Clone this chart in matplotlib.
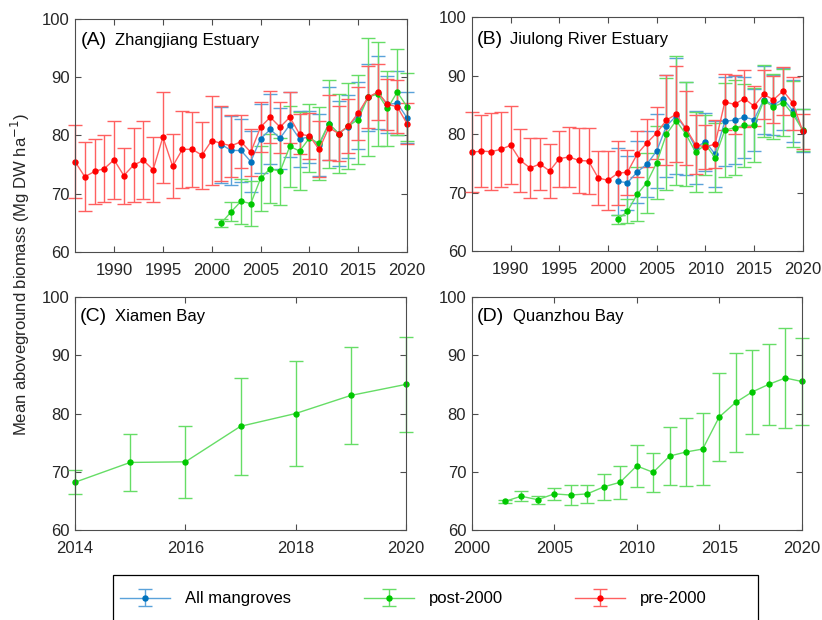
import matplotlib
matplotlib.use("Agg")
import matplotlib.pyplot as plt
from matplotlib.patches import Rectangle
import numpy as np

plt.rcParams['font.family'] = ['Liberation Sans', 'DejaVu Sans']

# ---------------- data ----------------
yrs_pre = list(range(1986, 2021))
yrs_post = list(range(2001, 2021))

# (A) Zhangjiang Estuary
a_pre_mean = [75.5, 72.9, 73.8, 74.3, 75.8, 73.1, 74.9, 75.7, 74.1, 79.7, 74.7, 77.6, 77.6, 76.6, 79.1,
              78.6, 78.2, 78.9, 77.1, 81.4, 83.1, 81.4, 83.1, 80.2, 79.9, 77.6, 81.3, 80.3, 81.6, 83.8,
              86.5, 87.4, 85.3, 84.9, 82.0]
a_pre_sd = [6.2, 5.9, 5.6, 5.7, 6.7, 4.8, 6.4, 6.7, 5.6, 7.8, 5.5, 6.65, 6.4, 5.75, 7.55,
            6.45, 5.3, 4.5, 4.0, 4.3, 4.5, 4.35, 4.4, 3.4, 4.0, 4.8, 5.6, 4.75, 4.65, 4.55,
            5.3, 4.8, 4.35, 4.5, 3.5]
a_all_mean = [78.4, 77.4, 77.4, 75.5, 79.4, 81.0, 79.5, 81.8, 79.4, 79.7, 78.3, 82.0, 80.3, 81.5, 83.4,
              86.5, 87.3, 85.3, 85.5, 83.0]
a_all_sd = [6.5, 5.85, 5.4, 5.2, 5.9, 6.0, 5.25, 5.6, 4.8, 4.5, 5.3, 6.3, 5.5, 5.45, 5.75,
            5.8, 6.3, 4.9, 5.5, 4.4]
a_post_mean = [65.0, 66.9, 68.7, 68.3, 72.6, 74.3, 73.8, 78.1, 77.3, 79.5, 78.6, 82.0, 80.3, 81.6, 82.7,
               86.5, 87.1, 84.6, 87.4, 84.9]
a_post_sd = [0.65, 1.65, 3.85, 3.9, 5.6, 5.95, 5.75, 6.95, 6.65, 5.8, 6.2, 7.55, 6.75, 7.35, 7.65,
             10.1, 8.95, 6.45, 7.4, 5.85]

# (B) Jiulong River Estuary
b_pre_mean = [76.9, 77.1, 77.0, 77.4, 78.1, 75.5, 74.2, 74.9, 73.7, 75.8, 76.1, 75.5, 75.4, 72.5, 72.1,
              73.3, 73.5, 76.6, 78.5, 80.2, 82.4, 83.4, 81.0, 78.2, 77.8, 78.3, 85.5, 85.1, 86.1, 84.8,
              86.8, 85.9, 87.4, 85.3, 80.5]
b_pre_sd = [6.85, 6.15, 6.55, 6.45, 6.65, 5.35, 5.1, 4.5, 4.55, 4.8, 5.15, 5.5, 5.6, 4.65, 5.1,
            5.45, 3.85, 3.95, 4.05, 4.5, 7.7, 8.2, 6.3, 5.05, 3.85, 4.15, 4.85, 5.05, 4.9, 3.45,
            4.15, 4.0, 4.15, 4.55, 3.0]
b_all_mean = [71.9, 71.7, 73.5, 74.9, 77.1, 81.4, 83.1, 80.9, 77.7, 78.7, 76.6, 82.2, 82.4, 82.9, 82.5,
              85.9, 85.0, 86.0, 84.0, 80.6]
b_all_sd = [5.8, 4.6, 5.3, 5.7, 6.4, 8.75, 10.0, 7.95, 6.2, 4.95, 5.7, 7.6, 7.5, 6.95, 5.3,
            5.85, 5.15, 5.3, 5.3, 3.65]
b_post_mean = [65.4, 66.8, 69.7, 71.7, 75.1, 80.0, 82.3, 80.0, 76.9, 78.2, 76.0, 80.7, 81.1, 81.5, 81.5,
               85.7, 84.7, 85.4, 83.4, 80.7]
b_post_sd = [0.8, 2.05, 4.6, 5.15, 6.25, 9.55, 11.05, 8.85, 6.85, 5.15, 5.95, 8.1, 8.1, 7.1, 6.35,
             6.15, 5.55, 5.8, 5.65, 3.55]

# (C) Xiamen Bay
c_years = list(range(2014, 2021))
c_post_mean = [68.2, 71.6, 71.7, 77.8, 80.0, 83.1, 85.0]
c_post_sd = [2.1, 4.9, 6.2, 8.35, 8.95, 8.35, 8.2]

# (D) Quanzhou Bay
d_years = list(range(2002, 2021))
d_post_mean = [64.9, 65.8, 65.2, 66.2, 66.0, 66.2, 67.4, 68.2, 71.0, 69.9, 72.7, 73.4, 73.9, 79.4,
               81.9, 83.7, 85.0, 86.1, 85.5]
d_post_sd = [0.2, 0.85, 0.7, 1.05, 1.7, 1.55, 2.2, 2.8, 3.6, 3.3, 4.95, 5.85, 6.2, 7.5,
             8.45, 7.15, 6.9, 8.65, 7.4]

series_labels = ['All mangroves', 'post-2000', 'pre-2000']
panel_letters = ['(A)', '(B)', '(C)', '(D)']
panel_names = ['Zhangjiang Estuary', 'Jiulong River Estuary', 'Xiamen Bay', 'Quanzhou Bay']
ylabel = 'Mean aboveground biomass (Mg DW ha$^{-1}$)'

# ---------------- style ----------------
# (marker colour, light colour for lines / error bars)
C_BLUE = ('#0072BD', '#5AA2DA')
C_GREEN = ('#00C800', '#66DD66')
C_RED = ('#FF0000', '#FF6060')
AX_COLOR = '0.3'
TXT_COLOR = '#262626'


def eb(ax, x, y, e, c, label=None):
    dark, light = c
    cont = ax.errorbar(x, y, yerr=e, fmt='-o', color=light, ecolor=light,
                       mfc=dark, mec=dark, ms=3.6, lw=1.0, elinewidth=1.0, capsize=5,
                       capthick=1.0, label=label)
    line, caps, bars = cont
    line.set_clip_on(False)
    for cp in caps:
        cp.set_clip_on(False)
    for b in bars:
        b.set_clip_on(False)
    return cont


fig = plt.figure(figsize=(8.22, 6.2), dpi=100)

W, H = 822.0, 620.0
boxes = [
    (75, 18.6, 407, 252),
    (471.7, 17.3, 802.7, 251),
    (75, 297, 406, 530),
    (471.7, 297, 801.7, 530),
]
axes = []
for (l, t, r, b) in boxes:
    ax = fig.add_axes([l / W, 1 - b / H, (r - l) / W, (b - t) / H])
    axes.append(ax)

axA, axB, axC, axD = axes

hA = eb(axA, yrs_post, a_all_mean, a_all_sd, C_BLUE, series_labels[0])
gA = eb(axA, yrs_post, a_post_mean, a_post_sd, C_GREEN, series_labels[1])
rA = eb(axA, yrs_pre, a_pre_mean, a_pre_sd, C_RED, series_labels[2])

eb(axB, yrs_post, b_all_mean, b_all_sd, C_BLUE)
eb(axB, yrs_post, b_post_mean, b_post_sd, C_GREEN)
eb(axB, yrs_pre, b_pre_mean, b_pre_sd, C_RED)

eb(axC, c_years, c_post_mean, c_post_sd, C_GREEN)
eb(axD, d_years, d_post_mean, d_post_sd, C_GREEN)

for ax in (axA, axB):
    ax.set_xlim(1986, 2020)
    ax.set_xticks([1990, 1995, 2000, 2005, 2010, 2015, 2020])
axC.set_xlim(2014, 2020)
axC.set_xticks([2014, 2016, 2018, 2020])
axD.set_xlim(2000, 2020)
axD.set_xticks([2000, 2005, 2010, 2015, 2020])

title_pos = [(0.016, 0.12), (0.016, 0.117), (0.013, 0.12), (0.016, 0.124)]
for i, ax in enumerate(axes):
    ax.set_ylim(60, 100)
    ax.set_yticks([60, 70, 80, 90, 100])
    ax.tick_params(direction='in', top=True, right=True, length=4, width=0.8,
                   color=AX_COLOR, labelcolor=TXT_COLOR, labelsize=12)
    ax.tick_params(axis='y', pad=4)
    ax.tick_params(axis='x', pad=8)
    for s in ax.spines.values():
        s.set_color(AX_COLOR)
        s.set_linewidth(0.8)
    ax.set_facecolor('white')
    y0 = 0.885 if i < 2 else 0.895
    ax.text(title_pos[i][0], y0, panel_letters[i], transform=ax.transAxes,
            fontsize=14, color='black', va='baseline', ha='left')
    ax.text(title_pos[i][1], y0, panel_names[i], transform=ax.transAxes,
            fontsize=12, color='black', va='baseline', ha='left')

fig.text(20 / W, 1 - 275 / H, ylabel, rotation=90, ha='center', va='center',
         fontsize=12, color=TXT_COLOR)

# legend frame (MATLAB-like, wider than its content)
frame = Rectangle((113 / W, 1 - 625 / H), (758 - 113) / W, (625 - 575) / H,
                  transform=fig.transFigure, facecolor='white', edgecolor='black',
                  linewidth=0.9, zorder=0)
fig.patches.append(frame)

leg = fig.legend([hA, gA, rA], series_labels, ncol=3, loc='center left',
                 bbox_to_anchor=(120 / W, 1 - 599 / H),
                 frameon=False, fontsize=12,
                 handlelength=3.0, handletextpad=0.9, columnspacing=4.35,
                 borderaxespad=0.0, borderpad=0.0)
for t in leg.get_texts():
    t.set_color('black')

fig.savefig('out.png', dpi=100)
